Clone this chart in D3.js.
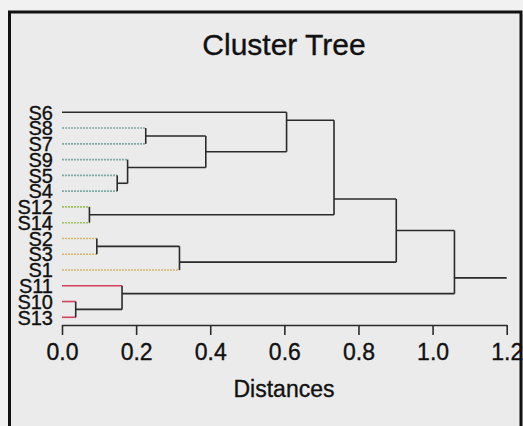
<!DOCTYPE html>
<html>
<head>
<meta charset="utf-8">
<script src="https://cdn.jsdelivr.net/npm/d3@7"></script>
<style>
  html, body { margin: 0; padding: 0; background: #f1f1f1; }
  svg { display: block; font-family: "Liberation Sans", Arial, sans-serif; }
  text { stroke: #111; stroke-width: 0.35px; }
</style>
</head>
<body>
<div id="tree"></div>
<script>
// leaf order, top to bottom
const leaves = ["S6", "S8", "S7", "S9", "S5", "S4", "S12", "S14", "S2", "S3", "S1", "S11", "S10", "S13"];
// colour group of each leaf (same order)
const leafGroup = ["none", "a", "a", "a", "a", "a", "b", "b", "c", "c", "c", "d", "d", "d"];
// merges: new cluster id, left, right, distance
const mergeId    = ["C1", "C2", "C3", "C4", "C5", "C6", "C7", "C8", "C9", "C10", "C11", "C12", "C13"];
const mergeLeft  = ["S10", "S12", "S2", "S5", "S11", "S9", "S8", "C3", "C7", "S6", "C10", "C11", "C12"];
const mergeRight = ["S13", "S14", "S3", "S4", "C1", "C4", "S7", "S1", "C6", "C9", "C2", "C8", "C5"];
const mergeDist  = [0.037, 0.074, 0.094, 0.149, 0.162, 0.177, 0.226, 0.317, 0.388, 0.606, 0.734, 0.902, 1.059];
const xTicks = [0, 0.2, 0.4, 0.6, 0.8, 1.0, 1.2];

const width = 523, height = 426;
const svg = d3.select("#tree").append("svg")
  .attr("width", width).attr("height", height);

// panel background
svg.append("rect")
  .attr("x", 9.5).attr("y", 12).attr("width", 511.5).attr("height", 500)
  .attr("fill", "#ebebeb");

const x = d3.scaleLinear().domain([0, 1.2]).range([62, 506.7]);
const yIdx = d3.scaleLinear().domain([0, leaves.length - 1]).range([112.3, 317.3]);

const ink = "#2a2a2a";
const groupColor = { none: ink, a: "#7fa9a4", b: "#9cc05a", c: "#d8b46a", d: "#d2405f" };
const groupDash = { none: null, a: "2 1", b: "2 1", c: "2 1", d: null };

// node info: leaves first
const node = {};
leaves.forEach((s, i) => { node[s] = { lo: i, hi: i, y: yIdx(i), h: 0, leaf: true, group: leafGroup[i] }; });
mergeId.forEach((id, k) => {
  const L = node[mergeLeft[k]], R = node[mergeRight[k]];
  // join sits on the boundary between the two child groups
  node[id] = { lo: L.lo, hi: R.hi, y: yIdx((L.hi + R.lo) / 2), h: mergeDist[k], leaf: false };
});

const g = svg.append("g");

// horizontal branches from each child to its parent
const segs = [];
mergeId.forEach((id, k) => {
  [mergeLeft[k], mergeRight[k]].forEach(c => {
    segs.push({ c: node[c], p: node[id] });
  });
});
g.selectAll(".branch").data(segs).join("line").attr("class", "branch")
  .attr("x1", d => x(d.c.h)).attr("x2", d => x(d.p.h))
  .attr("y1", d => d.c.y).attr("y2", d => d.c.y)
  .attr("stroke", d => d.c.leaf ? groupColor[d.c.group] : ink)
  .attr("stroke-dasharray", d => d.c.leaf ? groupDash[d.c.group] : null)
  .attr("stroke-width", 1.6);

// vertical joins
g.selectAll(".join").data(mergeId).join("line").attr("class", "join")
  .attr("x1", (id) => x(node[id].h)).attr("x2", (id) => x(node[id].h))
  .attr("y1", (id, k) => node[mergeLeft[k]].y)
  .attr("y2", (id, k) => node[mergeRight[k]].y)
  .attr("stroke", ink).attr("stroke-width", 1.6);

// root stub
const root = node[mergeId[mergeId.length - 1]];
g.append("line")
  .attr("x1", x(root.h)).attr("x2", x(1.2))
  .attr("y1", root.y).attr("y2", root.y)
  .attr("stroke", ink).attr("stroke-width", 1.6);

// leaf labels
g.selectAll(".lab").data(leaves).join("text").attr("class", "lab")
  .attr("x", 53).attr("y", (d, i) => yIdx(i))
  .attr("dy", "0.36em")
  .attr("text-anchor", "end")
  .attr("font-size", 20).attr("fill", "#111")
  .text(d => d);

// x axis
const axis = g.append("g").attr("transform", "translate(0,325)")
  .call(d3.axisBottom(x).tickValues(xTicks).tickSize(10).tickSizeOuter(0)
    .tickFormat(d3.format(".1f")));
axis.select(".domain").attr("stroke", ink).attr("stroke-width", 1.6);
axis.selectAll(".tick line").attr("stroke", ink).attr("stroke-width", 1.6);
axis.selectAll(".tick text")
  .attr("y", 35).attr("dy", 0)
  .attr("font-size", 23).attr("fill", "#111")
  .attr("font-family", "Liberation Sans, Arial, sans-serif");

svg.append("text")
  .attr("x", 284).attr("y", 397).attr("text-anchor", "middle")
  .attr("font-size", 23).attr("fill", "#111")
  .text("Distances");

svg.append("text")
  .attr("x", 284).attr("y", 55).attr("text-anchor", "middle")
  .attr("font-size", 30).attr("fill", "#111")
  .text("Cluster Tree");

// frame on top
svg.append("rect")
  .attr("x", 9.5).attr("y", 12).attr("width", 511.5).attr("height", 500)
  .attr("fill", "none").attr("stroke", "#111").attr("stroke-width", 3);
</script>
</body>
</html>
